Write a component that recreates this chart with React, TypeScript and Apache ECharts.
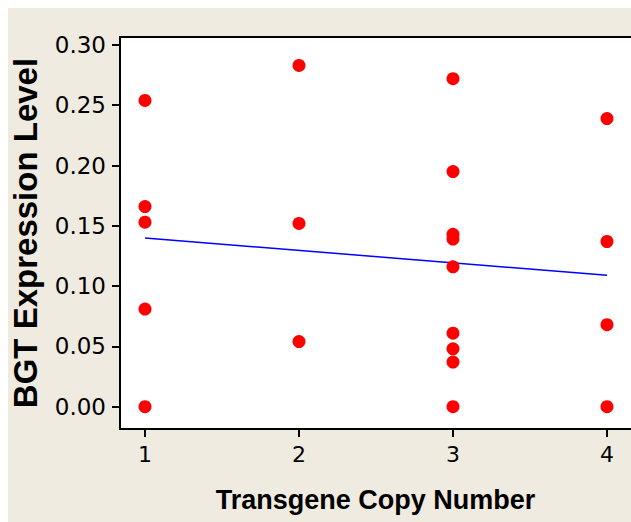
import React, { useEffect, useRef } from "react";
import * as echarts from "echarts";

// Expression levels, per transgene copy number
const copyNumbers = [1, 2, 3, 4];
const levelsCopy1 = [0.254, 0.166, 0.153, 0.081, 0.0];
const levelsCopy2 = [0.283, 0.152, 0.054];
const levelsCopy3 = [0.272, 0.195, 0.143, 0.139, 0.116, 0.061, 0.048, 0.037, 0.0];
const levelsCopy4 = [0.239, 0.137, 0.068, 0.0];

const yTicks = [0, 0.05, 0.1, 0.15, 0.2, 0.25, 0.3];
const xTicks = [1, 2, 3, 4];

const xTitle = "Transgene Copy Number";
const yTitle = "BGT Expression Level";

export default function App() {
  const ref = useRef<HTMLDivElement>(null);

  useEffect(() => {
    if (!ref.current) return;
    const chart = echarts.init(ref.current, null, { renderer: "svg" });

    const groups = [levelsCopy1, levelsCopy2, levelsCopy3, levelsCopy4];
    const points: number[][] = [];
    groups.forEach((g, i) => g.forEach((v) => points.push([copyNumbers[i], v])));

    // least-squares fit through the points
    const n = points.length;
    const mx = points.reduce((s, p) => s + p[0], 0) / n;
    const my = points.reduce((s, p) => s + p[1], 0) / n;
    let sxy = 0;
    let sxx = 0;
    points.forEach((p) => {
      sxy += (p[0] - mx) * (p[1] - my);
      sxx += (p[0] - mx) * (p[0] - mx);
    });
    const slope = sxy / sxx;
    const intercept = my - slope * mx;
    const xMinData = Math.min(...copyNumbers);
    const xMaxData = Math.max(...copyNumbers);
    const fit = [
      [xMinData, intercept + slope * xMinData],
      [xMaxData, intercept + slope * xMaxData],
    ];

    const xMin = 0.8377;
    const xMax = 4.1559;
    const frameLine = { show: true, onZero: false, lineStyle: { color: "#000", width: 2 } };

    chart.setOption({
      animation: false,
      backgroundColor: "#efebe1",
      grid: {
        left: 112,
        top: 29,
        right: 0,
        bottom: 93,
        outerBoundsMode: "none",
        containLabel: false,
        show: true,
        backgroundColor: "#ffffff",
        borderWidth: 0,
      },
      xAxis: [
        {
          type: "value",
          position: "bottom",
          min: xMin,
          max: xMax,
          name: xTitle,
          nameLocation: "middle",
          nameGap: 57,
          nameTextStyle: {
            fontFamily: "Liberation Sans",
            fontWeight: "bold",
            fontSize: 27,
            color: "#000",
          },
          axisLine: frameLine,
          splitLine: { show: false },
          axisTick: {
            show: true,
            length: 8,
            lineStyle: { color: "#000", width: 2 },
            customValues: xTicks,
          },
          axisLabel: {
            customValues: xTicks,
            margin: 14,
            fontFamily: "DejaVu Sans",
            fontSize: 22,
            color: "#000",
            formatter: (v: number) => String(v),
          },
        },
        {
          type: "value",
          position: "top",
          min: xMin,
          max: xMax,
          axisLine: frameLine,
          axisTick: { show: false },
          axisLabel: { show: false },
          splitLine: { show: false },
        },
      ],
      yAxis: {
        type: "value",
        min: -0.0185,
        max: 0.3066,
        name: yTitle,
        nameLocation: "middle",
        nameGap: 78,
        nameRotate: 90,
        nameTextStyle: {
          fontFamily: "Liberation Sans",
          fontWeight: "bold",
          fontSize: 33,
          color: "#000",
        },
        axisLine: frameLine,
        splitLine: { show: false },
        axisTick: {
          show: true,
          length: 8,
          lineStyle: { color: "#000", width: 2 },
          customValues: yTicks,
        },
        axisLabel: {
          customValues: yTicks,
          margin: 14,
          fontFamily: "DejaVu Sans",
          fontSize: 23,
          color: "#000",
          formatter: (v: number) => v.toFixed(2),
        },
      },
      series: [
        {
          type: "line",
          data: fit,
          symbol: "none",
          lineStyle: { color: "#0000ff", width: 1.5 },
          z: 1,
        },
        {
          type: "scatter",
          data: points,
          symbol: "circle",
          symbolSize: 13,
          itemStyle: { color: "#ff0000", opacity: 1 },
          z: 2,
        },
      ],
    });

    return () => chart.dispose();
  }, []);

  return (
    <div
      ref={ref}
      style={{ position: "absolute", left: 8, top: 8, width: 623, height: 514 }}
    />
  );
}
